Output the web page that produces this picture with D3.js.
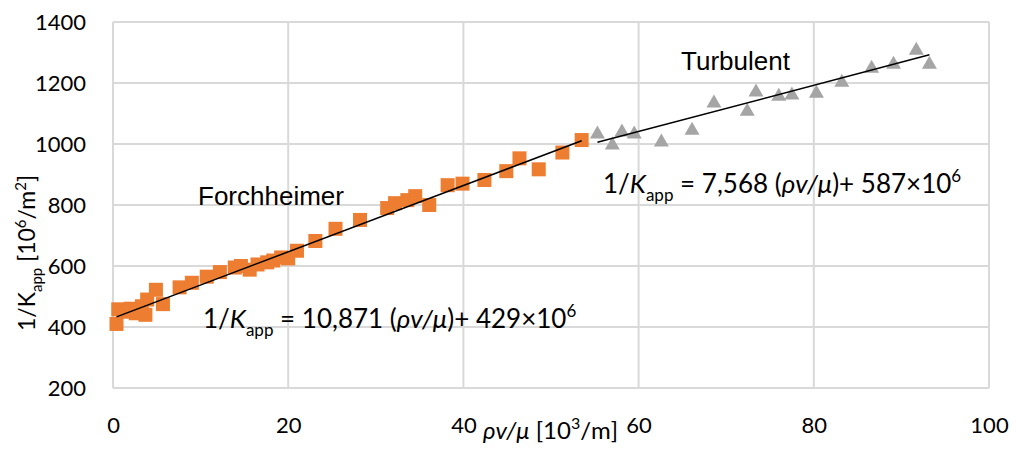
<!DOCTYPE html>
<html>
<head>
<meta charset="utf-8">
<script src="https://cdn.jsdelivr.net/npm/d3@7"></script>
<style>
  body { margin: 0; background: #fff; }
  svg { display: block; }
</style>
</head>
<body>
<svg></svg>
<script>
// Forchheimer regime (orange squares)
const forchX = [0.4, 0.6, 1.2, 2.0, 2.6, 3.3, 3.7, 3.9, 4.9, 5.7, 7.6, 9.0, 10.7, 12.2, 13.9, 14.6, 15.6, 16.5, 17.6, 18.3, 19.2, 20.0, 21.0, 23.1, 25.4, 28.2, 31.3, 32.2, 33.6, 34.5, 36.1, 38.2, 39.9, 42.4, 44.9, 46.4, 48.6, 51.3, 53.5];
const forchY = [410, 458, 450, 460, 445, 468, 440, 490, 522, 475, 530, 545, 565, 580, 595, 600, 588, 605, 612, 618, 628, 625, 650, 682, 722, 751, 790, 806, 816, 829, 800, 865, 870, 882, 911, 953, 917, 972, 1013];

// Turbulent regime (grey triangles)
const turbX = [55.3, 57.0, 58.1, 59.5, 62.6, 66.1, 68.6, 72.4, 73.4, 76.0, 77.5, 80.3, 83.2, 86.6, 89.1, 91.7, 93.2];
const turbY = [1039, 1003, 1046, 1039, 1013, 1052, 1141, 1114, 1177, 1163, 1167, 1173, 1209, 1255, 1268, 1314, 1268];

// linear fits: [slope, intercept]
const forchFit = [10.871, 429];
const turbFit = [7.568, 587];

const xTicks = [0, 20, 40, 60, 80, 100];
const yTicks = [200, 400, 600, 800, 1000, 1200, 1400];

const sizes = {
  width: 1016,
  height: 450,
  plot: { left: 113, right: 989, top: 22, bottom: 388 }
};

const colors = {
  forch: "#ED7D31",
  turb: "#A5A5A5",
  grid: "#D9D9D9",
  text: "#000000"
};

const tickFont = "Lato, 'Open Sans', sans-serif";
const labelFont = "'Liberation Sans', Arial, sans-serif";

const svg = d3.select("svg")
  .attr("width", sizes.width)
  .attr("height", sizes.height);

const x = d3.scaleLinear().domain([0, 100]).range([sizes.plot.left, sizes.plot.right]);
const y = d3.scaleLinear().domain([200, 1400]).range([sizes.plot.bottom, sizes.plot.top]);

// grid
svg.append("g")
  .selectAll("line")
  .data(yTicks)
  .join("line")
  .attr("x1", sizes.plot.left)
  .attr("x2", sizes.plot.right)
  .attr("y1", d => y(d))
  .attr("y2", d => y(d))
  .attr("stroke", colors.grid)
  .attr("stroke-width", 2);

svg.append("g")
  .selectAll("line")
  .data(xTicks)
  .join("line")
  .attr("x1", d => x(d))
  .attr("x2", d => x(d))
  .attr("y1", sizes.plot.top)
  .attr("y2", sizes.plot.bottom)
  .attr("stroke", colors.grid)
  .attr("stroke-width", 2);

// axes (labels only)
const xAxis = svg.append("g")
  .attr("transform", `translate(0,${sizes.plot.bottom})`)
  .call(d3.axisBottom(x).tickValues(xTicks).tickFormat(d3.format("d")).tickSize(0).tickPadding(29));

const yAxis = svg.append("g")
  .attr("transform", `translate(${sizes.plot.left},0)`)
  .call(d3.axisLeft(y).tickValues(yTicks).tickFormat(d3.format("d")).tickSize(0).tickPadding(27));

[xAxis, yAxis].forEach(a => {
  a.select(".domain").remove();
  a.selectAll("text")
    .attr("fill", colors.text)
    .style("font-family", tickFont)
    .style("font-size", "22px");
});

// trend lines
function fitLine(xs, fit) {
  const x0 = d3.min(xs), x1 = d3.max(xs);
  return [[x0, fit[0] * x0 + fit[1]], [x1, fit[0] * x1 + fit[1]]];
}

const line = d3.line().x(d => x(d[0])).y(d => y(d[1]));

// markers
svg.append("g")
  .selectAll("rect")
  .data(forchX.map((d, i) => [d, forchY[i]]))
  .join("rect")
  .attr("x", d => x(d[0]) - 7)
  .attr("y", d => y(d[1]) - 7)
  .attr("width", 14)
  .attr("height", 14)
  .attr("fill", colors.forch);

const tri = "M0,-6.5L7.5,6.5L-7.5,6.5Z";
svg.append("g")
  .selectAll("path")
  .data(turbX.map((d, i) => [d, turbY[i]]))
  .join("path")
  .attr("d", tri)
  .attr("transform", d => `translate(${x(d[0])},${y(d[1])})`)
  .attr("fill", colors.turb);

[fitLine(forchX, forchFit), fitLine(turbX, turbFit)].forEach(pts => {
  svg.append("path")
    .attr("d", line(pts))
    .attr("stroke", "#000")
    .attr("stroke-width", 1.5)
    .attr("fill", "none");
});

// regime labels
svg.append("text")
  .attr("x", 198).attr("y", 205)
  .style("font-family", labelFont).style("font-size", "26px")
  .text("Forchheimer");

svg.append("text")
  .attr("x", 681).attr("y", 70)
  .style("font-family", labelFont).style("font-size", "26px")
  .text("Turbulent");

// equations
function equation(xp, yp, slope, intercept) {
  const t = svg.append("text")
    .attr("x", xp).attr("y", yp)
    .style("font-family", tickFont).style("font-size", "26px")
    .attr("fill", colors.text);
  t.append("tspan").text("1/");
  t.append("tspan").style("font-style", "italic").text("K");
  t.append("tspan").attr("dy", 8).style("font-size", "17px").text("app");
  t.append("tspan").attr("dy", -8).text(` = ${slope} (`);
  t.append("tspan").style("font-style", "italic").text("ρv/μ");
  t.append("tspan").text(`)+ ${intercept}×10`);
  t.append("tspan").attr("dy", -11).style("font-size", "17px").text("6");
}

equation(203, 328, "10,871", 429);
equation(603, 193, "7,568", 587);

// axis titles
const xt = svg.append("text")
  .attr("x", 483).attr("y", 439)
  .style("font-family", tickFont).style("font-size", "24px")
  .attr("fill", colors.text);
xt.append("tspan").style("font-style", "italic").text("ρv/μ");
xt.append("tspan").text(" [10");
xt.append("tspan").attr("dy", -10).style("font-size", "16px").text("3");
xt.append("tspan").attr("dy", 10).text("/m]");

const yt = svg.append("text")
  .attr("transform", "translate(35,253) rotate(-90)")
  .attr("text-anchor", "middle")
  .style("font-family", tickFont).style("font-size", "23px")
  .attr("fill", colors.text);
yt.append("tspan").text("1/K");
yt.append("tspan").attr("dy", 7).style("font-size", "15px").text("app");
yt.append("tspan").attr("dy", -7).text(" [10");
yt.append("tspan").attr("dy", -9).style("font-size", "15px").text("6");
yt.append("tspan").attr("dy", 9).text("/m");
yt.append("tspan").attr("dy", -9).style("font-size", "15px").text("2");
yt.append("tspan").attr("dy", 9).text("]");
</script>
</body>
</html>
